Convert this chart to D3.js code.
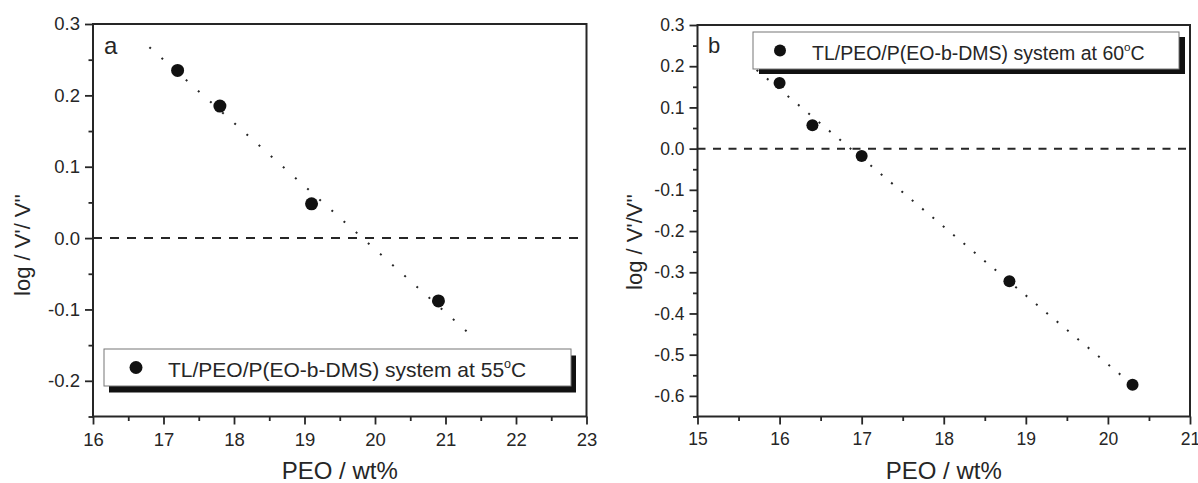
<!DOCTYPE html>
<html>
<head>
<meta charset="utf-8">
<script src="https://cdn.jsdelivr.net/npm/d3@7"></script>
<style>
  html, body { margin: 0; padding: 0; background: #fff; }
  svg { display: block; font-family: "Liberation Sans", Arial, sans-serif; }
</style>
</head>
<body>
<svg id="chart" width="1198" height="483"></svg>
<script>
// ---- data ----
const peoA = [17.2, 17.8, 19.1, 20.9];
const logA = [0.235, 0.185, 0.048, -0.088];
const peoB = [16.0, 16.4, 17.0, 18.8, 20.3];
const logB = [0.159, 0.057, -0.018, -0.322, -0.573];
const fitRangeA = [16.8, 21.3];
const fitRangeB = [15.72, 20.3];
const xTicksA = [16, 17, 18, 19, 20, 21, 22, 23];
const yTicksA = [-0.2, -0.1, 0.0, 0.1, 0.2, 0.3];
const xTicksB = [15, 16, 17, 18, 19, 20, 21];
const yTicksB = [-0.6, -0.5, -0.4, -0.3, -0.2, -0.1, 0.0, 0.1, 0.2, 0.3];
const legendA = "TL/PEO/P(EO-b-DMS) system at 55";
const legendB = "TL/PEO/P(EO-b-DMS) system at 60";
const yTitleA = "log / V'/ V''";
const yTitleB = "log / V'/V''";
const xTitle = "PEO / wt%";

const svg = d3.select("#chart");
const ink = "#262626";
const fmtY = v => d3.format(".1f")(v).replace("\u2212", "-");

function fit(xs, ys) {
  const n = xs.length, mx = d3.mean(xs), my = d3.mean(ys);
  let sxy = 0, sxx = 0;
  for (let i = 0; i < n; i++) { sxy += (xs[i]-mx)*(ys[i]-my); sxx += (xs[i]-mx)**2; }
  const b = sxy / sxx;
  return x => my + b * (x - mx);
}

function panel(cfg) {
  const g = svg.append("g");
  const x = d3.scaleLinear().domain(cfg.xDomain).range(cfg.xRange);
  const y = d3.scaleLinear().domain(cfg.yDomain).range(cfg.yRange);
  const [x0, x1] = cfg.xRange, [y1, y0] = cfg.yRange;

  // minor ticks
  const xMinor = d3.range(cfg.xDomain[0] + 0.5, cfg.xDomain[1], 1);
  const yMinor = d3.range(Math.ceil(cfg.yDomain[0]*20)/20, cfg.yDomain[1]+1e-9, 0.05)
                   .filter(v => Math.abs(Math.round(v*20)) % 2 === 1);
  g.append("g").attr("transform", `translate(0,${y1})`)
    .call(d3.axisBottom(x).tickValues(xMinor).tickSize(4.5).tickFormat(""))
    .call(s => s.select(".domain").remove());
  g.append("g").attr("transform", `translate(${x0},0)`)
    .call(d3.axisLeft(y).tickValues(yMinor).tickSize(4.5).tickFormat(""))
    .call(s => s.select(".domain").remove());

  // major axes
  const ax = g.append("g").attr("transform", `translate(0,${y1})`)
    .call(d3.axisBottom(x).tickValues(cfg.xTicks).tickSize(8).tickPadding(cfg.xPad).tickFormat(d3.format("d")));
  const ay = g.append("g").attr("transform", `translate(${x0},0)`)
    .call(d3.axisLeft(y).tickValues(cfg.yTicks).tickSize(8).tickPadding(5).tickFormat(fmtY));
  [ax, ay].forEach(a => {
    a.attr("font-size", null).attr("font-family", null);
    a.select(".domain").remove();
    a.selectAll("text").style("font-size", cfg.tickFont + "px").attr("fill", ink)
      .style("font-family", "'Liberation Sans', Arial, sans-serif");
  });
  g.selectAll(".tick line").attr("stroke", ink).attr("stroke-width", 1.8);

  // frame
  g.append("rect").attr("x", x0).attr("y", y0).attr("width", x1 - x0).attr("height", y1 - y0)
    .attr("fill", "none").attr("stroke", ink).attr("stroke-width", 2);

  // zero dashed line
  g.append("line").attr("x1", x0).attr("x2", x1).attr("y1", y(0)).attr("y2", y(0))
    .attr("stroke", ink).attr("stroke-width", 2).attr("stroke-dasharray", cfg.dash);

  // fit line (dotted)
  const f = fit(cfg.xs, cfg.ys);
  g.append("line")
    .attr("x1", x(cfg.fitRange[0])).attr("y1", y(f(cfg.fitRange[0])))
    .attr("x2", x(cfg.fitRange[1])).attr("y2", y(f(cfg.fitRange[1])))
    .attr("stroke", ink).attr("stroke-width", 2).attr("stroke-dasharray", cfg.dot);

  // points
  g.selectAll("circle.pt").data(cfg.xs.map((v, i) => [v, cfg.ys[i]])).enter()
    .append("circle").attr("class", "pt")
    .attr("cx", d => x(d[0])).attr("cy", d => y(d[1])).attr("r", cfg.r).attr("fill", "#111");

  // panel letter
  g.append("text").attr("x", cfg.letterPos[0]).attr("y", cfg.letterPos[1])
    .attr("font-size", cfg.letterFont).attr("fill", ink).text(cfg.letter);

  // legend
  const L = cfg.legend;
  g.append("rect").attr("x", L.x + L.sx).attr("y", L.y + L.sy).attr("width", L.w).attr("height", L.h)
    .attr("fill", "#111");
  g.append("rect").attr("x", L.x).attr("y", L.y).attr("width", L.w).attr("height", L.h)
    .attr("fill", "#fff").attr("stroke", "#777").attr("stroke-width", 1);
  g.append("circle").attr("cx", L.x + L.mx).attr("cy", L.y + L.h/2).attr("r", cfg.r).attr("fill", "#111");
  const t = g.append("text").attr("x", L.x + L.tx).attr("y", L.y + L.ty)
    .attr("font-size", L.font).attr("fill", ink);
  t.append("tspan").text(cfg.legendText);
  t.append("tspan").attr("dy", -L.font*0.42).attr("font-size", L.font*0.6).text("o");
  t.append("tspan").attr("dy", L.font*0.42).text("C");

  // axis titles
  g.append("text").attr("transform", `translate(${cfg.yTitlePos[0]},${cfg.yTitlePos[1]}) rotate(-90)`)
    .attr("text-anchor", "middle").attr("font-size", cfg.titleFont).attr("fill", ink).text(cfg.yTitle);
  g.append("text").attr("x", (x0 + x1)/2).attr("y", 479)
    .attr("text-anchor", "middle").attr("font-size", cfg.titleFont + 2).attr("fill", ink).text(xTitle);
}

panel({
  xDomain: [16, 23], xRange: [93, 586.5],
  yDomain: [-0.25, 0.3], yRange: [416.5, 24],
  xTicks: xTicksA, yTicks: yTicksA, xPad: 8, tickFont: 18.5,
  xs: peoA, ys: logA, fitRange: fitRangeA, r: 6.5,
  dash: "9,8", dot: "2,14.3",
  letter: "a", letterPos: [104, 54], letterFont: 24,
  legend: { x: 104, y: 349, w: 467, h: 37, sx: 5, sy: 6.5, mx: 32, tx: 64, ty: 28, font: 21 },
  legendText: legendA,
  yTitle: yTitleA, yTitlePos: [30, 245], titleFont: 22
});

panel({
  xDomain: [15, 21], xRange: [697.5, 1190],
  yDomain: [-0.65, 0.3], yRange: [416.5, 25],
  xTicks: xTicksB, yTicks: yTicksB, xPad: 8, tickFont: 17.5,
  xs: peoB, ys: logB, fitRange: fitRangeB, r: 6,
  dash: "8,7.5", dot: "2,11.5",
  letter: "b", letterPos: [708, 53], letterFont: 22,
  legend: { x: 753, y: 32, w: 426, h: 37, sx: 6, sy: 5, mx: 27, tx: 59, ty: 27.5, font: 19.5 },
  legendText: legendB,
  yTitle: yTitleB, yTitlePos: [642, 242], titleFont: 22
});
</script>
</body>
</html>
